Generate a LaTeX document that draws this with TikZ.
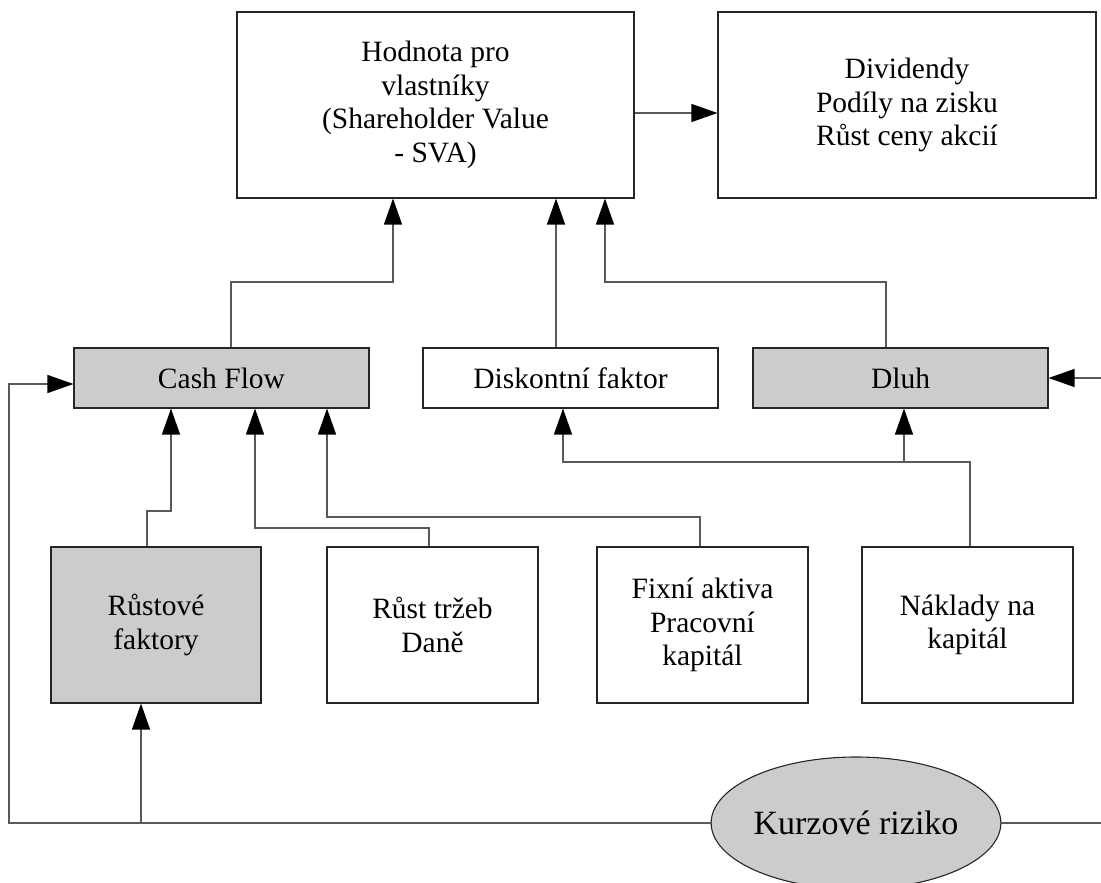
\documentclass[tikz,border=0pt]{standalone}
\usepackage{fontspec}
\setmainfont{Liberation Serif}
\usetikzlibrary{arrows.meta,shapes.geometric}
\definecolor{boxgray}{HTML}{CCCCCC}
\begin{document}
\begin{tikzpicture}[x=1pt,y=-1pt,
  box/.style={draw=black!85,line width=1.1pt,rectangle,inner sep=0pt,align=center,
    font=\fontsize{29.5}{33.5}\selectfont},
  graybox/.style={box,fill=boxgray},
  conn/.style={draw=black!65,line width=1.2pt},
  arr/.style={conn,-{Triangle[length=26pt,width=18pt,color=black]}}]
\useasboundingbox (0,0) rectangle (1101,883);
% top row
\node[box,minimum width=397pt,minimum height=186pt] (SVA) at (435.5,105)
  {Hodnota pro\\vlastníky\\(Shareholder Value\\- SVA)};
\node[box,minimum width=378pt,minimum height=186pt] (Div) at (907,105)
  {Dividendy\\Podíly na zisku\\Růst ceny akcií};
% middle row
\node[graybox,minimum width=295pt,minimum height=60pt] (CF) at (221.5,378) {Cash Flow};
\node[box,minimum width=295pt,minimum height=60pt] (DF) at (570.5,378) {Diskontní faktor};
\node[graybox,minimum width=295pt,minimum height=60pt] (Dluh) at (900.5,378) {Dluh};
% bottom row
\node[graybox,minimum width=210pt,minimum height=156pt] (RF) at (156,625) {Růstové\\faktory};
\node[box,minimum width=211pt,minimum height=156pt] (RT) at (432.5,625) {Růst tržeb\\Daně};
\node[box,minimum width=211pt,minimum height=156pt] (FA) at (702.5,625) {Fixní aktiva\\Pracovní\\kapitál};
\node[box,minimum width=211pt,minimum height=156pt] (NK) at (967.5,625) {Náklady na\\kapitál};
% ellipse
\node[ellipse,draw=black!85,line width=1.1pt,fill=boxgray,inner sep=0pt,
  minimum width=276pt,minimum height=132pt,font=\fontsize{34}{38}\selectfont] (KR) at (856,823) {Kurzové riziko};
% connectors to SVA
\draw[arr] (231,0 |- CF.north) -- (231,282) -| (393,0 |- SVA.south);
\draw[arr] (556,0 |- DF.north) -- (556,0 |- SVA.south);
\draw[arr] (886,0 |- Dluh.north) -- (886,282) -| (605,0 |- SVA.south);
\draw[arr] (SVA.east |- 0,113) -- (Div.west |- 0,113);
% connectors to Cash Flow
\draw[arr] (147,0 |- RF.north) -- (147,511) -| (171,0 |- CF.south);
\draw[arr] (429,0 |- RT.north) -- (429,528) -| (255,0 |- CF.south);
\draw[arr] (700,0 |- FA.north) -- (700,517) -| (327,0 |- CF.south);
% Naklady na kapital
\draw[arr] (970,0 |- NK.north) -- (970,462) -| (563,0 |- DF.south);
\coordinate (jn) at (904,462);
\draw[arr] (jn) -- (904,0 |- Dluh.south);
% Kurzove riziko
\draw[arr] (KR.west) -- (9,823) |- (CF.west |- 0,384);
\coordinate (jb) at (141,823);
\draw[arr] (jb) -- (141,0 |- RF.south);
\coordinate (re) at (1101,823);
\draw[conn] (KR.east) -- (re);
\coordinate (rd) at (1101,378);
\draw[arr] (rd) -- (Dluh.east);
\end{tikzpicture}
\end{document}
